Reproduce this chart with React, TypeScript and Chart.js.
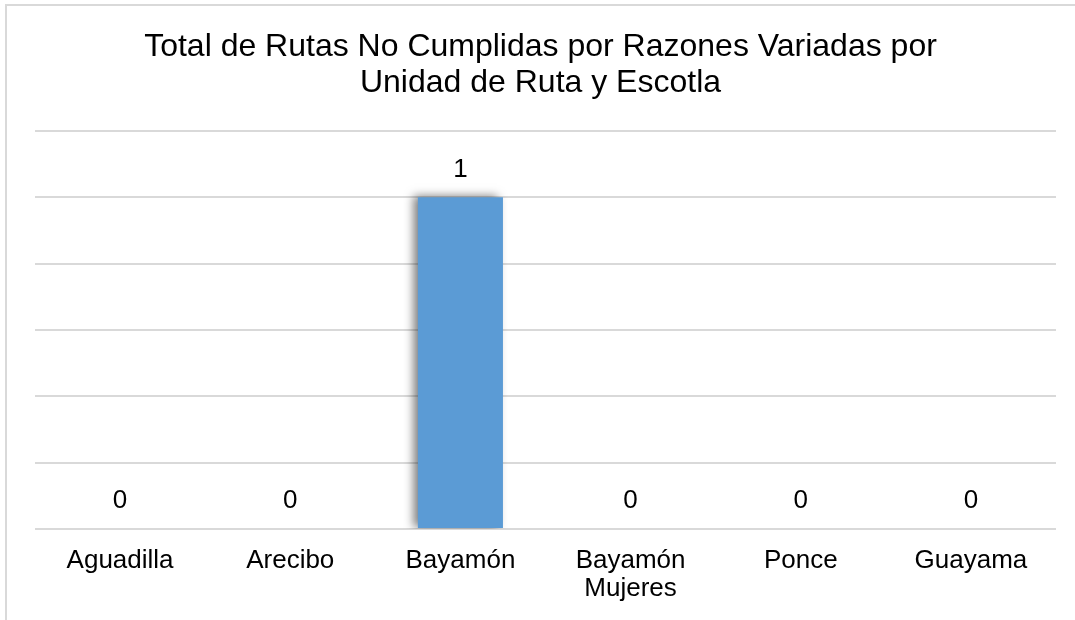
import React, { useEffect, useRef } from "react";
import { Chart, registerables } from "chart.js";

Chart.register(...registerables);

const categories: (string | string[])[] = ["Aguadilla", "Arecibo", "Bayamón", ["Bayamón", "Mujeres"], "Ponce", "Guayama"];
const values: number[] = [0, 0, 1, 0, 0, 0];
const titleLines: string[] = ["Total de Rutas No Cumplidas por Razones Variadas por", "Unidad de Ruta y Escotla"];
const yMax = 1.2;
const yStep = 0.2;

const FONT = "'Liberation Sans', Arial, sans-serif";

const shadowPlugin = {
  id: "barShadow",
  beforeDatasetDraw(chart: any) {
    const ctx = chart.ctx;
    ctx.save();
    ctx.shadowColor = "rgba(0,0,0,0.5)";
    ctx.shadowBlur = 9;
    ctx.shadowOffsetX = -5;
    ctx.shadowOffsetY = -1;
  },
  afterDatasetDraw(chart: any) {
    chart.ctx.restore();
  },
};

const labelPlugin = {
  id: "valueLabels",
  afterDatasetsDraw(chart: any) {
    const ctx = chart.ctx;
    const meta = chart.getDatasetMeta(0);
    ctx.save();
    ctx.font = `26px ${FONT}`;
    ctx.fillStyle = "#000";
    ctx.textAlign = "center";
    ctx.textBaseline = "middle";
    meta.data.forEach((bar: any, i: number) => {
      ctx.fillText(String(values[i]), bar.x, bar.y - 28);
    });
    ctx.restore();
  },
};

export default function App() {
  const ref = useRef<HTMLCanvasElement>(null);
  useEffect(() => {
    if (!ref.current) return;
    const chart = new Chart(ref.current, {
      type: "bar",
      data: {
        labels: categories as any,
        datasets: [
          {
            data: values,
            backgroundColor: "#5B9BD5",
            borderWidth: 0,
            categoryPercentage: 1,
            barPercentage: 0.5,
          },
        ],
      },
      options: {
        animation: false,
        responsive: false,
        maintainAspectRatio: false,
        layout: { padding: { left: 18, right: 17, top: 0, bottom: 5 } },
        plugins: {
          legend: { display: false },
          tooltip: { enabled: false },
          title: {
            display: true,
            text: titleLines,
            color: "#000",
            font: { size: 32, family: FONT, weight: "normal" as any, lineHeight: 1.125 },
            padding: { top: 23, bottom: 30 },
          },
        },
        scales: {
          x: {
            grid: { display: false, drawTicks: false },
            border: { display: false },
            ticks: {
              color: "#000",
              font: { size: 26, family: FONT, lineHeight: 28 / 26 },
              padding: 18,
              maxRotation: 0,
              autoSkip: false,
            },
          },
          y: {
            min: 0,
            max: yMax,
            grid: { color: "#d9d9d9", lineWidth: 2, drawTicks: false },
            border: { display: false },
            ticks: { display: false, stepSize: yStep },
            afterFit: (s: any) => {
              s.width = 10;
            },
          },
        },
      },
      plugins: [shadowPlugin, labelPlugin],
    });
    return () => chart.destroy();
  }, []);

  return (
    <div
      style={{
        position: "fixed",
        left: 5,
        top: 4,
        width: 1080,
        height: 620,
        border: "2px solid #d9d9d9",
        background: "#fff",
      }}
    >
      <canvas ref={ref} width={1066} height={620} style={{ display: "block" }} />
    </div>
  );
}
